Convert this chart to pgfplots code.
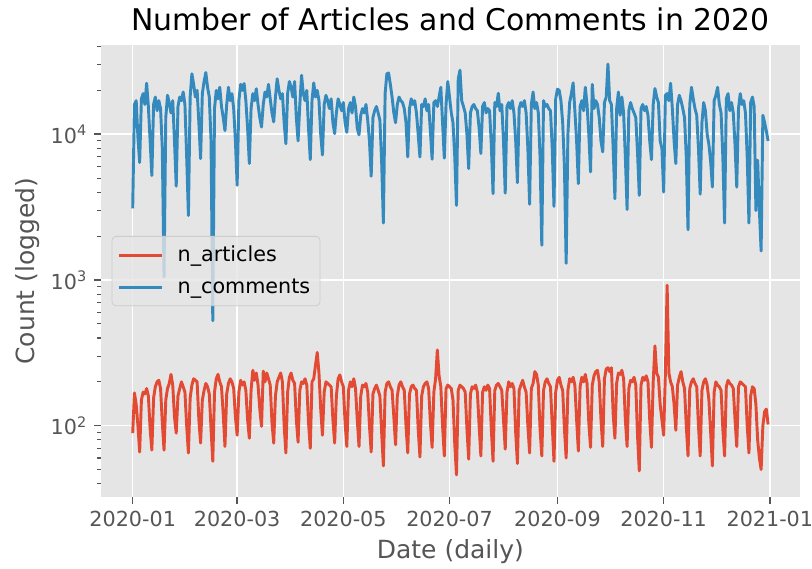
\documentclass[border=0pt]{standalone}
\usepackage{fontspec}
\setmainfont{DejaVu Sans}
\usepackage{pgfplots}
\pgfplotsset{compat=1.18}
\usepackage{pgfplotstable}

\definecolor{panel}{HTML}{E5E5E5}
\definecolor{tickgray}{HTML}{555555}
\definecolor{frame}{HTML}{CCCCCC}
\definecolor{artred}{HTML}{E24A33}
\definecolor{comblue}{HTML}{348ABD}

% daily counts for 2020; day 0 = 2020-01-01
\pgfplotstableread{
day art com
0 89 3100
1 168 16000
2 140 17000
3 100 9500
4 66 6400
5 150 17500
6 170 19000
7 165 16000
8 180 22400
9 160 15500
10 95 9000
11 68 5200
12 155 16000
13 185 18000
14 200 14500
15 205 17000
16 180 15000
17 105 8000
18 68 1050
19 150 13000
20 180 18500
21 195 16500
22 225 14000
23 190 17000
24 115 9000
25 89 4400
26 160 15500
27 180 18000
28 200 17000
29 185 19500
30 170 16000
31 100 7000
32 65 2770
33 155 18000
34 190 26000
35 210 22000
36 205 18000
37 200 20000
38 110 12000
39 76 6800
40 150 19000
41 175 23000
42 195 26500
43 185 21000
44 165 18000
45 95 9000
46 57 525
47 170 15000
48 210 20000
49 225 17500
50 200 21000
51 185 15500
52 120 13000
53 72 10600
54 165 16000
55 195 21000
56 210 17000
57 200 19000
58 180 15000
59 115 9000
60 86 4460
61 170 17000
62 205 22000
63 190 20000
64 200 22300
65 175 17000
66 110 11000
67 82 6300
68 175 15000
69 240 19000
70 205 17000
71 230 20500
72 190 16000
73 130 13000
74 99 11200
75 237 16000
76 200 19500
77 230 18000
78 210 22000
79 190 17500
80 105 14000
81 76 12150
82 160 18000
83 200 24000
84 215 20000
85 230 17500
86 200 19000
87 100 12000
88 65 8600
89 170 19000
90 215 23000
91 230 21000
92 205 18000
93 195 23000
94 110 13000
95 77 9000
96 175 16000
97 200 25400
98 195 19000
99 210 17000
100 190 20000
101 105 11000
102 70 6700
103 200 17000
104 210 22500
105 260 18000
106 318 20000
107 230 17000
108 130 10000
109 86 7200
110 170 16000
111 200 18500
112 195 17000
113 190 15000
114 185 17500
115 110 12000
116 76 10100
117 160 14000
118 210 17500
119 223 16000
120 200 14500
121 185 16500
122 105 12000
123 72 10300
124 175 15000
125 200 16500
126 185 14000
127 210 18000
128 180 15500
129 110 11000
130 72 9900
131 160 13500
132 190 15000
133 185 14000
134 195 16000
135 170 12500
136 100 9000
137 66 5150
138 165 13000
139 180 14500
140 190 15500
141 175 14000
142 160 12500
143 90 6500
144 53 2460
145 170 19000
146 195 26000
147 200 26300
148 185 22000
149 175 18000
150 115 14000
151 74 12000
152 160 16000
153 190 18000
154 200 17000
155 185 16500
156 175 15000
157 100 12000
158 65 6980
159 165 15000
160 185 17500
161 190 16000
162 180 17000
163 175 14000
164 95 10000
165 61 6980
166 160 16000
167 185 15500
168 195 17500
169 200 14500
170 180 16000
171 105 10500
172 71 6730
173 170 16500
174 210 17000
175 331 15500
176 220 18000
177 185 21000
178 100 12000
179 62 6860
180 180 16000
181 190 23000
182 185 18000
183 180 14000
184 150 12000
185 75 7000
186 46 3250
187 175 24000
188 190 27500
189 185 17000
190 180 15500
191 170 14000
192 95 10000
193 59 5810
194 165 14000
195 185 15500
196 180 16000
197 190 15000
198 170 14500
199 100 11000
200 62 7370
201 170 15500
202 185 16500
203 175 14000
204 190 15000
205 180 14500
206 95 8500
207 57 3910
208 175 16500
209 190 15500
210 195 19100
211 185 14500
212 175 16000
213 110 9000
214 69 3940
215 170 15500
216 200 16500
217 185 15000
218 195 17000
219 180 14000
220 90 9000
221 55 4650
222 175 15000
223 190 16500
224 205 15500
225 185 17000
226 170 14000
227 100 8000
228 65 3310
229 180 16000
230 195 19500
231 235 15000
232 225 16500
233 190 14000
234 95 7000
235 62 1730
236 175 17000
237 200 15500
238 210 16000
239 195 15000
240 185 14500
241 100 8000
242 57 3200
243 170 17500
244 205 20400
245 215 20000
246 190 17000
247 175 12000
248 95 6000
249 60 1300
250 175 10000
251 210 16500
252 200 19000
253 215 22500
254 190 14500
255 110 9000
256 67 4580
257 185 15500
258 215 17000
259 200 14500
260 225 21000
261 195 16000
262 105 10000
263 71 5510
264 190 22000
265 220 15000
266 235 17000
267 240 16000
268 200 13000
269 110 9000
270 72 7560
271 210 16500
272 245 18000
273 250 30300
274 235 17000
275 250 16000
276 120 8000
277 82 3610
278 195 15000
279 230 19500
280 225 13500
281 240 18000
282 210 14000
283 110 7000
284 72 3040
285 180 14500
286 205 16500
287 200 15000
288 215 14000
289 190 13000
290 85 7500
291 49 3810
292 190 15000
293 215 16000
294 205 14500
295 220 15500
296 200 13500
297 110 9000
298 71 6690
299 200 16000
300 353 20600
301 230 18000
302 215 16500
303 140 9000
304 110 8000
305 86 4010
306 230 18500
307 920 19000
308 230 17000
309 200 22400
310 185 15000
311 140 9000
312 93 6290
313 190 16000
314 215 18500
315 235 17000
316 200 15000
317 180 13000
318 100 7000
319 62 2210
320 180 16000
321 200 21000
322 210 17500
323 195 15000
324 185 13500
325 100 8000
326 62 3880
327 175 12000
328 200 16500
329 210 14500
330 190 10000
331 150 8500
332 90 6500
333 53 4340
334 170 17000
335 200 18500
336 190 21000
337 185 16000
338 175 14000
339 95 7000
340 62 2460
341 185 17500
342 205 19000
343 195 14500
344 190 16500
345 180 14000
346 110 8500
347 72 4340
348 185 15000
349 200 19000
350 195 16000
351 190 17000
352 185 14000
353 100 7000
354 65 2460
355 160 16500
356 185 18000
357 180 15500
358 140 3000
359 80 6630
360 60 3000
361 50 1580
362 100 13500
363 125 12000
364 130 10500
365 102 9000
}\daily

\begin{document}
\begin{tikzpicture}
\useasboundingbox (-51.5bp,-36.7bp) rectangle (362.8bp,253.6bp);
\begin{axis}[
  at={(0,0)}, anchor=south west,
  scale only axis, width=356.6bp, height=230.6bp,
  xmin=-18.25, xmax=383.25,
  ymode=log, ymin=32.4, ymax=40900,
  axis background/.style={fill=panel},
  axis line style={draw=none},
  tick pos=left, tick align=outside,
  major tick length=3.5pt, minor tick length=2pt,
  tick style={tickgray, line width=0.8pt},
  minor tick style={tickgray, line width=0.6pt},
  xtick={0,60,121,182,244,305,366},
  xticklabels={2020-01,2020-03,2020-05,2020-07,2020-09,2020-11,2021-01},
  ytick={100,1000,10000},
  yticklabels={10\textsuperscript{2},10\textsuperscript{3},10\textsuperscript{4}},
  minor ytick={40,50,60,70,80,90,200,300,400,500,600,700,800,900,2000,3000,4000,5000,6000,7000,8000,9000,20000,30000,40000},
  grid=major, major grid style={white, line width=0.8pt},
  ticklabel style={font=\fontsize{10.6}{12.5}\selectfont, text=tickgray},
  xlabel={Date (daily)}, ylabel={Count (logged)},
  label style={font=\fontsize{12.8}{15}\selectfont, text=tickgray},
  ylabel style={yshift=-1bp},
  title={Number of Articles and Comments in 2020},
  title style={font=\fontsize{15.3}{18}\selectfont, at={(0.5,1)}, anchor=base, yshift=1.6bp},
  legend style={at={(0.0153,0.5)}, anchor=west, fill=panel, fill opacity=0.8,
    text opacity=1, draw=frame, rounded corners=2bp,
    font=\fontsize{10.6}{12.5}\selectfont, row sep=3bp,
    inner xsep=3bp, inner ysep=3bp,
    /tikz/every odd column/.append style={column sep=5bp}},
  legend cell align=left,
  legend image code/.code={\draw[#1, line width=1.5pt] (0bp,0bp) -- (22bp,0bp);},
]
\addplot[artred, line width=1.5pt, line join=round] table[x=day, y=art]{\daily};
\addlegendentry{n\_articles}
\addplot[comblue, line width=1.5pt, line join=round] table[x=day, y=com]{\daily};
\addlegendentry{n\_comments}
\end{axis}
\end{tikzpicture}
\end{document}
